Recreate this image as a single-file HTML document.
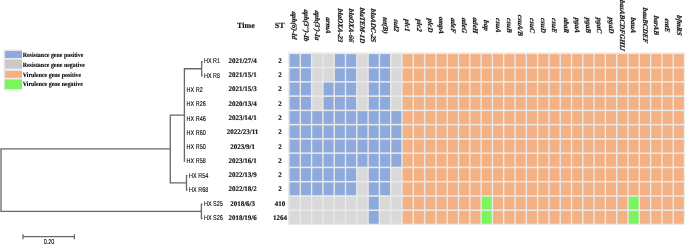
<!DOCTYPE html>
<html><head><meta charset="utf-8"><title>Phylogeny heatmap</title><style>html,body{margin:0;padding:0;background:#fff;}
body{width:685px;height:244px;overflow:hidden;position:relative;}
svg{position:absolute;left:0;top:0;display:block;text-rendering:geometricPrecision;will-change:transform;}
.hd{font-family:"Liberation Serif",serif;font-weight:bold;font-style:italic;font-size:7.1px;fill:#111;stroke:#111;stroke-width:0.2px;}
.tt{font-family:"Liberation Serif",serif;font-weight:bold;font-size:8px;fill:#111;stroke:#111;stroke-width:0.15px;}
.dt{font-family:"Liberation Serif",serif;font-weight:bold;font-size:7.0px;fill:#111;stroke:#111;stroke-width:0.15px;}
.lb{font-family:"Liberation Sans",sans-serif;font-size:7.0px;fill:#000;stroke:#000;stroke-width:0.12px;}
.lg{font-family:"Liberation Serif",serif;font-weight:bold;font-size:6.6px;fill:#000;stroke:#000;stroke-width:0.1px;}
</style></head><body>
<svg width="685" height="244" viewBox="0 0 685 244">
<rect x="287.9" y="52.4" width="396.90" height="172.80" fill="#E9E9E9"/>
<rect x="289.70" y="54.10" width="9.9" height="12.7" fill="#8EA9DB"/>
<rect x="301.00" y="54.10" width="9.9" height="12.7" fill="#8EA9DB"/>
<rect x="312.30" y="54.10" width="9.9" height="12.7" fill="#D9D9D9"/>
<rect x="323.60" y="54.10" width="9.9" height="12.7" fill="#D9D9D9"/>
<rect x="334.90" y="54.10" width="9.9" height="12.7" fill="#8EA9DB"/>
<rect x="346.20" y="54.10" width="9.9" height="12.7" fill="#8EA9DB"/>
<rect x="357.50" y="54.10" width="9.9" height="12.7" fill="#D9D9D9"/>
<rect x="368.80" y="54.10" width="9.9" height="12.7" fill="#8EA9DB"/>
<rect x="380.10" y="54.10" width="9.9" height="12.7" fill="#8EA9DB"/>
<rect x="391.40" y="54.10" width="9.9" height="12.7" fill="#D9D9D9"/>
<rect x="402.70" y="54.10" width="9.9" height="12.7" fill="#F4B183"/>
<rect x="414.00" y="54.10" width="9.9" height="12.7" fill="#F4B183"/>
<rect x="425.30" y="54.10" width="9.9" height="12.7" fill="#F4B183"/>
<rect x="436.60" y="54.10" width="9.9" height="12.7" fill="#F4B183"/>
<rect x="447.90" y="54.10" width="9.9" height="12.7" fill="#F4B183"/>
<rect x="459.20" y="54.10" width="9.9" height="12.7" fill="#F4B183"/>
<rect x="470.50" y="54.10" width="9.9" height="12.7" fill="#F4B183"/>
<rect x="481.80" y="54.10" width="9.9" height="12.7" fill="#F4B183"/>
<rect x="493.10" y="54.10" width="9.9" height="12.7" fill="#F4B183"/>
<rect x="504.40" y="54.10" width="9.9" height="12.7" fill="#F4B183"/>
<rect x="515.70" y="54.10" width="9.9" height="12.7" fill="#F4B183"/>
<rect x="527.00" y="54.10" width="9.9" height="12.7" fill="#F4B183"/>
<rect x="538.30" y="54.10" width="9.9" height="12.7" fill="#F4B183"/>
<rect x="549.60" y="54.10" width="9.9" height="12.7" fill="#F4B183"/>
<rect x="560.90" y="54.10" width="9.9" height="12.7" fill="#F4B183"/>
<rect x="572.20" y="54.10" width="9.9" height="12.7" fill="#F4B183"/>
<rect x="583.50" y="54.10" width="9.9" height="12.7" fill="#F4B183"/>
<rect x="594.80" y="54.10" width="9.9" height="12.7" fill="#F4B183"/>
<rect x="606.10" y="54.10" width="9.9" height="12.7" fill="#F4B183"/>
<rect x="617.40" y="54.10" width="9.9" height="12.7" fill="#F4B183"/>
<rect x="628.70" y="54.10" width="9.9" height="12.7" fill="#F4B183"/>
<rect x="640.00" y="54.10" width="9.9" height="12.7" fill="#F4B183"/>
<rect x="651.30" y="54.10" width="9.9" height="12.7" fill="#F4B183"/>
<rect x="662.60" y="54.10" width="9.9" height="12.7" fill="#F4B183"/>
<rect x="673.90" y="54.10" width="9.9" height="12.7" fill="#F4B183"/>
<rect x="289.70" y="68.37" width="9.9" height="12.7" fill="#8EA9DB"/>
<rect x="301.00" y="68.37" width="9.9" height="12.7" fill="#8EA9DB"/>
<rect x="312.30" y="68.37" width="9.9" height="12.7" fill="#D9D9D9"/>
<rect x="323.60" y="68.37" width="9.9" height="12.7" fill="#D9D9D9"/>
<rect x="334.90" y="68.37" width="9.9" height="12.7" fill="#8EA9DB"/>
<rect x="346.20" y="68.37" width="9.9" height="12.7" fill="#8EA9DB"/>
<rect x="357.50" y="68.37" width="9.9" height="12.7" fill="#D9D9D9"/>
<rect x="368.80" y="68.37" width="9.9" height="12.7" fill="#8EA9DB"/>
<rect x="380.10" y="68.37" width="9.9" height="12.7" fill="#8EA9DB"/>
<rect x="391.40" y="68.37" width="9.9" height="12.7" fill="#D9D9D9"/>
<rect x="402.70" y="68.37" width="9.9" height="12.7" fill="#F4B183"/>
<rect x="414.00" y="68.37" width="9.9" height="12.7" fill="#F4B183"/>
<rect x="425.30" y="68.37" width="9.9" height="12.7" fill="#F4B183"/>
<rect x="436.60" y="68.37" width="9.9" height="12.7" fill="#F4B183"/>
<rect x="447.90" y="68.37" width="9.9" height="12.7" fill="#F4B183"/>
<rect x="459.20" y="68.37" width="9.9" height="12.7" fill="#F4B183"/>
<rect x="470.50" y="68.37" width="9.9" height="12.7" fill="#F4B183"/>
<rect x="481.80" y="68.37" width="9.9" height="12.7" fill="#F4B183"/>
<rect x="493.10" y="68.37" width="9.9" height="12.7" fill="#F4B183"/>
<rect x="504.40" y="68.37" width="9.9" height="12.7" fill="#F4B183"/>
<rect x="515.70" y="68.37" width="9.9" height="12.7" fill="#F4B183"/>
<rect x="527.00" y="68.37" width="9.9" height="12.7" fill="#F4B183"/>
<rect x="538.30" y="68.37" width="9.9" height="12.7" fill="#F4B183"/>
<rect x="549.60" y="68.37" width="9.9" height="12.7" fill="#F4B183"/>
<rect x="560.90" y="68.37" width="9.9" height="12.7" fill="#F4B183"/>
<rect x="572.20" y="68.37" width="9.9" height="12.7" fill="#F4B183"/>
<rect x="583.50" y="68.37" width="9.9" height="12.7" fill="#F4B183"/>
<rect x="594.80" y="68.37" width="9.9" height="12.7" fill="#F4B183"/>
<rect x="606.10" y="68.37" width="9.9" height="12.7" fill="#F4B183"/>
<rect x="617.40" y="68.37" width="9.9" height="12.7" fill="#F4B183"/>
<rect x="628.70" y="68.37" width="9.9" height="12.7" fill="#F4B183"/>
<rect x="640.00" y="68.37" width="9.9" height="12.7" fill="#F4B183"/>
<rect x="651.30" y="68.37" width="9.9" height="12.7" fill="#F4B183"/>
<rect x="662.60" y="68.37" width="9.9" height="12.7" fill="#F4B183"/>
<rect x="673.90" y="68.37" width="9.9" height="12.7" fill="#F4B183"/>
<rect x="289.70" y="82.63" width="9.9" height="12.7" fill="#8EA9DB"/>
<rect x="301.00" y="82.63" width="9.9" height="12.7" fill="#8EA9DB"/>
<rect x="312.30" y="82.63" width="9.9" height="12.7" fill="#D9D9D9"/>
<rect x="323.60" y="82.63" width="9.9" height="12.7" fill="#8EA9DB"/>
<rect x="334.90" y="82.63" width="9.9" height="12.7" fill="#8EA9DB"/>
<rect x="346.20" y="82.63" width="9.9" height="12.7" fill="#8EA9DB"/>
<rect x="357.50" y="82.63" width="9.9" height="12.7" fill="#D9D9D9"/>
<rect x="368.80" y="82.63" width="9.9" height="12.7" fill="#8EA9DB"/>
<rect x="380.10" y="82.63" width="9.9" height="12.7" fill="#8EA9DB"/>
<rect x="391.40" y="82.63" width="9.9" height="12.7" fill="#D9D9D9"/>
<rect x="402.70" y="82.63" width="9.9" height="12.7" fill="#F4B183"/>
<rect x="414.00" y="82.63" width="9.9" height="12.7" fill="#F4B183"/>
<rect x="425.30" y="82.63" width="9.9" height="12.7" fill="#F4B183"/>
<rect x="436.60" y="82.63" width="9.9" height="12.7" fill="#F4B183"/>
<rect x="447.90" y="82.63" width="9.9" height="12.7" fill="#F4B183"/>
<rect x="459.20" y="82.63" width="9.9" height="12.7" fill="#F4B183"/>
<rect x="470.50" y="82.63" width="9.9" height="12.7" fill="#F4B183"/>
<rect x="481.80" y="82.63" width="9.9" height="12.7" fill="#F4B183"/>
<rect x="493.10" y="82.63" width="9.9" height="12.7" fill="#F4B183"/>
<rect x="504.40" y="82.63" width="9.9" height="12.7" fill="#F4B183"/>
<rect x="515.70" y="82.63" width="9.9" height="12.7" fill="#F4B183"/>
<rect x="527.00" y="82.63" width="9.9" height="12.7" fill="#F4B183"/>
<rect x="538.30" y="82.63" width="9.9" height="12.7" fill="#F4B183"/>
<rect x="549.60" y="82.63" width="9.9" height="12.7" fill="#F4B183"/>
<rect x="560.90" y="82.63" width="9.9" height="12.7" fill="#F4B183"/>
<rect x="572.20" y="82.63" width="9.9" height="12.7" fill="#F4B183"/>
<rect x="583.50" y="82.63" width="9.9" height="12.7" fill="#F4B183"/>
<rect x="594.80" y="82.63" width="9.9" height="12.7" fill="#F4B183"/>
<rect x="606.10" y="82.63" width="9.9" height="12.7" fill="#F4B183"/>
<rect x="617.40" y="82.63" width="9.9" height="12.7" fill="#F4B183"/>
<rect x="628.70" y="82.63" width="9.9" height="12.7" fill="#F4B183"/>
<rect x="640.00" y="82.63" width="9.9" height="12.7" fill="#F4B183"/>
<rect x="651.30" y="82.63" width="9.9" height="12.7" fill="#F4B183"/>
<rect x="662.60" y="82.63" width="9.9" height="12.7" fill="#F4B183"/>
<rect x="673.90" y="82.63" width="9.9" height="12.7" fill="#F4B183"/>
<rect x="289.70" y="96.90" width="9.9" height="12.7" fill="#8EA9DB"/>
<rect x="301.00" y="96.90" width="9.9" height="12.7" fill="#8EA9DB"/>
<rect x="312.30" y="96.90" width="9.9" height="12.7" fill="#D9D9D9"/>
<rect x="323.60" y="96.90" width="9.9" height="12.7" fill="#8EA9DB"/>
<rect x="334.90" y="96.90" width="9.9" height="12.7" fill="#8EA9DB"/>
<rect x="346.20" y="96.90" width="9.9" height="12.7" fill="#8EA9DB"/>
<rect x="357.50" y="96.90" width="9.9" height="12.7" fill="#D9D9D9"/>
<rect x="368.80" y="96.90" width="9.9" height="12.7" fill="#8EA9DB"/>
<rect x="380.10" y="96.90" width="9.9" height="12.7" fill="#8EA9DB"/>
<rect x="391.40" y="96.90" width="9.9" height="12.7" fill="#D9D9D9"/>
<rect x="402.70" y="96.90" width="9.9" height="12.7" fill="#F4B183"/>
<rect x="414.00" y="96.90" width="9.9" height="12.7" fill="#F4B183"/>
<rect x="425.30" y="96.90" width="9.9" height="12.7" fill="#F4B183"/>
<rect x="436.60" y="96.90" width="9.9" height="12.7" fill="#F4B183"/>
<rect x="447.90" y="96.90" width="9.9" height="12.7" fill="#F4B183"/>
<rect x="459.20" y="96.90" width="9.9" height="12.7" fill="#F4B183"/>
<rect x="470.50" y="96.90" width="9.9" height="12.7" fill="#F4B183"/>
<rect x="481.80" y="96.90" width="9.9" height="12.7" fill="#F4B183"/>
<rect x="493.10" y="96.90" width="9.9" height="12.7" fill="#F4B183"/>
<rect x="504.40" y="96.90" width="9.9" height="12.7" fill="#F4B183"/>
<rect x="515.70" y="96.90" width="9.9" height="12.7" fill="#F4B183"/>
<rect x="527.00" y="96.90" width="9.9" height="12.7" fill="#F4B183"/>
<rect x="538.30" y="96.90" width="9.9" height="12.7" fill="#F4B183"/>
<rect x="549.60" y="96.90" width="9.9" height="12.7" fill="#F4B183"/>
<rect x="560.90" y="96.90" width="9.9" height="12.7" fill="#F4B183"/>
<rect x="572.20" y="96.90" width="9.9" height="12.7" fill="#F4B183"/>
<rect x="583.50" y="96.90" width="9.9" height="12.7" fill="#F4B183"/>
<rect x="594.80" y="96.90" width="9.9" height="12.7" fill="#F4B183"/>
<rect x="606.10" y="96.90" width="9.9" height="12.7" fill="#F4B183"/>
<rect x="617.40" y="96.90" width="9.9" height="12.7" fill="#F4B183"/>
<rect x="628.70" y="96.90" width="9.9" height="12.7" fill="#F4B183"/>
<rect x="640.00" y="96.90" width="9.9" height="12.7" fill="#F4B183"/>
<rect x="651.30" y="96.90" width="9.9" height="12.7" fill="#F4B183"/>
<rect x="662.60" y="96.90" width="9.9" height="12.7" fill="#F4B183"/>
<rect x="673.90" y="96.90" width="9.9" height="12.7" fill="#F4B183"/>
<rect x="289.70" y="111.16" width="9.9" height="12.7" fill="#8EA9DB"/>
<rect x="301.00" y="111.16" width="9.9" height="12.7" fill="#8EA9DB"/>
<rect x="312.30" y="111.16" width="9.9" height="12.7" fill="#8EA9DB"/>
<rect x="323.60" y="111.16" width="9.9" height="12.7" fill="#8EA9DB"/>
<rect x="334.90" y="111.16" width="9.9" height="12.7" fill="#8EA9DB"/>
<rect x="346.20" y="111.16" width="9.9" height="12.7" fill="#8EA9DB"/>
<rect x="357.50" y="111.16" width="9.9" height="12.7" fill="#8EA9DB"/>
<rect x="368.80" y="111.16" width="9.9" height="12.7" fill="#8EA9DB"/>
<rect x="380.10" y="111.16" width="9.9" height="12.7" fill="#8EA9DB"/>
<rect x="391.40" y="111.16" width="9.9" height="12.7" fill="#8EA9DB"/>
<rect x="402.70" y="111.16" width="9.9" height="12.7" fill="#F4B183"/>
<rect x="414.00" y="111.16" width="9.9" height="12.7" fill="#F4B183"/>
<rect x="425.30" y="111.16" width="9.9" height="12.7" fill="#F4B183"/>
<rect x="436.60" y="111.16" width="9.9" height="12.7" fill="#F4B183"/>
<rect x="447.90" y="111.16" width="9.9" height="12.7" fill="#F4B183"/>
<rect x="459.20" y="111.16" width="9.9" height="12.7" fill="#F4B183"/>
<rect x="470.50" y="111.16" width="9.9" height="12.7" fill="#F4B183"/>
<rect x="481.80" y="111.16" width="9.9" height="12.7" fill="#F4B183"/>
<rect x="493.10" y="111.16" width="9.9" height="12.7" fill="#F4B183"/>
<rect x="504.40" y="111.16" width="9.9" height="12.7" fill="#F4B183"/>
<rect x="515.70" y="111.16" width="9.9" height="12.7" fill="#F4B183"/>
<rect x="527.00" y="111.16" width="9.9" height="12.7" fill="#F4B183"/>
<rect x="538.30" y="111.16" width="9.9" height="12.7" fill="#F4B183"/>
<rect x="549.60" y="111.16" width="9.9" height="12.7" fill="#F4B183"/>
<rect x="560.90" y="111.16" width="9.9" height="12.7" fill="#F4B183"/>
<rect x="572.20" y="111.16" width="9.9" height="12.7" fill="#F4B183"/>
<rect x="583.50" y="111.16" width="9.9" height="12.7" fill="#F4B183"/>
<rect x="594.80" y="111.16" width="9.9" height="12.7" fill="#F4B183"/>
<rect x="606.10" y="111.16" width="9.9" height="12.7" fill="#F4B183"/>
<rect x="617.40" y="111.16" width="9.9" height="12.7" fill="#F4B183"/>
<rect x="628.70" y="111.16" width="9.9" height="12.7" fill="#F4B183"/>
<rect x="640.00" y="111.16" width="9.9" height="12.7" fill="#F4B183"/>
<rect x="651.30" y="111.16" width="9.9" height="12.7" fill="#F4B183"/>
<rect x="662.60" y="111.16" width="9.9" height="12.7" fill="#F4B183"/>
<rect x="673.90" y="111.16" width="9.9" height="12.7" fill="#F4B183"/>
<rect x="289.70" y="125.43" width="9.9" height="12.7" fill="#8EA9DB"/>
<rect x="301.00" y="125.43" width="9.9" height="12.7" fill="#8EA9DB"/>
<rect x="312.30" y="125.43" width="9.9" height="12.7" fill="#8EA9DB"/>
<rect x="323.60" y="125.43" width="9.9" height="12.7" fill="#8EA9DB"/>
<rect x="334.90" y="125.43" width="9.9" height="12.7" fill="#8EA9DB"/>
<rect x="346.20" y="125.43" width="9.9" height="12.7" fill="#8EA9DB"/>
<rect x="357.50" y="125.43" width="9.9" height="12.7" fill="#8EA9DB"/>
<rect x="368.80" y="125.43" width="9.9" height="12.7" fill="#8EA9DB"/>
<rect x="380.10" y="125.43" width="9.9" height="12.7" fill="#8EA9DB"/>
<rect x="391.40" y="125.43" width="9.9" height="12.7" fill="#8EA9DB"/>
<rect x="402.70" y="125.43" width="9.9" height="12.7" fill="#F4B183"/>
<rect x="414.00" y="125.43" width="9.9" height="12.7" fill="#F4B183"/>
<rect x="425.30" y="125.43" width="9.9" height="12.7" fill="#F4B183"/>
<rect x="436.60" y="125.43" width="9.9" height="12.7" fill="#F4B183"/>
<rect x="447.90" y="125.43" width="9.9" height="12.7" fill="#F4B183"/>
<rect x="459.20" y="125.43" width="9.9" height="12.7" fill="#F4B183"/>
<rect x="470.50" y="125.43" width="9.9" height="12.7" fill="#F4B183"/>
<rect x="481.80" y="125.43" width="9.9" height="12.7" fill="#F4B183"/>
<rect x="493.10" y="125.43" width="9.9" height="12.7" fill="#F4B183"/>
<rect x="504.40" y="125.43" width="9.9" height="12.7" fill="#F4B183"/>
<rect x="515.70" y="125.43" width="9.9" height="12.7" fill="#F4B183"/>
<rect x="527.00" y="125.43" width="9.9" height="12.7" fill="#F4B183"/>
<rect x="538.30" y="125.43" width="9.9" height="12.7" fill="#F4B183"/>
<rect x="549.60" y="125.43" width="9.9" height="12.7" fill="#F4B183"/>
<rect x="560.90" y="125.43" width="9.9" height="12.7" fill="#F4B183"/>
<rect x="572.20" y="125.43" width="9.9" height="12.7" fill="#F4B183"/>
<rect x="583.50" y="125.43" width="9.9" height="12.7" fill="#F4B183"/>
<rect x="594.80" y="125.43" width="9.9" height="12.7" fill="#F4B183"/>
<rect x="606.10" y="125.43" width="9.9" height="12.7" fill="#F4B183"/>
<rect x="617.40" y="125.43" width="9.9" height="12.7" fill="#F4B183"/>
<rect x="628.70" y="125.43" width="9.9" height="12.7" fill="#F4B183"/>
<rect x="640.00" y="125.43" width="9.9" height="12.7" fill="#F4B183"/>
<rect x="651.30" y="125.43" width="9.9" height="12.7" fill="#F4B183"/>
<rect x="662.60" y="125.43" width="9.9" height="12.7" fill="#F4B183"/>
<rect x="673.90" y="125.43" width="9.9" height="12.7" fill="#F4B183"/>
<rect x="289.70" y="139.69" width="9.9" height="12.7" fill="#8EA9DB"/>
<rect x="301.00" y="139.69" width="9.9" height="12.7" fill="#8EA9DB"/>
<rect x="312.30" y="139.69" width="9.9" height="12.7" fill="#8EA9DB"/>
<rect x="323.60" y="139.69" width="9.9" height="12.7" fill="#8EA9DB"/>
<rect x="334.90" y="139.69" width="9.9" height="12.7" fill="#8EA9DB"/>
<rect x="346.20" y="139.69" width="9.9" height="12.7" fill="#8EA9DB"/>
<rect x="357.50" y="139.69" width="9.9" height="12.7" fill="#8EA9DB"/>
<rect x="368.80" y="139.69" width="9.9" height="12.7" fill="#8EA9DB"/>
<rect x="380.10" y="139.69" width="9.9" height="12.7" fill="#8EA9DB"/>
<rect x="391.40" y="139.69" width="9.9" height="12.7" fill="#8EA9DB"/>
<rect x="402.70" y="139.69" width="9.9" height="12.7" fill="#F4B183"/>
<rect x="414.00" y="139.69" width="9.9" height="12.7" fill="#F4B183"/>
<rect x="425.30" y="139.69" width="9.9" height="12.7" fill="#F4B183"/>
<rect x="436.60" y="139.69" width="9.9" height="12.7" fill="#F4B183"/>
<rect x="447.90" y="139.69" width="9.9" height="12.7" fill="#F4B183"/>
<rect x="459.20" y="139.69" width="9.9" height="12.7" fill="#F4B183"/>
<rect x="470.50" y="139.69" width="9.9" height="12.7" fill="#F4B183"/>
<rect x="481.80" y="139.69" width="9.9" height="12.7" fill="#F4B183"/>
<rect x="493.10" y="139.69" width="9.9" height="12.7" fill="#F4B183"/>
<rect x="504.40" y="139.69" width="9.9" height="12.7" fill="#F4B183"/>
<rect x="515.70" y="139.69" width="9.9" height="12.7" fill="#F4B183"/>
<rect x="527.00" y="139.69" width="9.9" height="12.7" fill="#F4B183"/>
<rect x="538.30" y="139.69" width="9.9" height="12.7" fill="#F4B183"/>
<rect x="549.60" y="139.69" width="9.9" height="12.7" fill="#F4B183"/>
<rect x="560.90" y="139.69" width="9.9" height="12.7" fill="#F4B183"/>
<rect x="572.20" y="139.69" width="9.9" height="12.7" fill="#F4B183"/>
<rect x="583.50" y="139.69" width="9.9" height="12.7" fill="#F4B183"/>
<rect x="594.80" y="139.69" width="9.9" height="12.7" fill="#F4B183"/>
<rect x="606.10" y="139.69" width="9.9" height="12.7" fill="#F4B183"/>
<rect x="617.40" y="139.69" width="9.9" height="12.7" fill="#F4B183"/>
<rect x="628.70" y="139.69" width="9.9" height="12.7" fill="#F4B183"/>
<rect x="640.00" y="139.69" width="9.9" height="12.7" fill="#F4B183"/>
<rect x="651.30" y="139.69" width="9.9" height="12.7" fill="#F4B183"/>
<rect x="662.60" y="139.69" width="9.9" height="12.7" fill="#F4B183"/>
<rect x="673.90" y="139.69" width="9.9" height="12.7" fill="#F4B183"/>
<rect x="289.70" y="153.96" width="9.9" height="12.7" fill="#8EA9DB"/>
<rect x="301.00" y="153.96" width="9.9" height="12.7" fill="#8EA9DB"/>
<rect x="312.30" y="153.96" width="9.9" height="12.7" fill="#8EA9DB"/>
<rect x="323.60" y="153.96" width="9.9" height="12.7" fill="#8EA9DB"/>
<rect x="334.90" y="153.96" width="9.9" height="12.7" fill="#8EA9DB"/>
<rect x="346.20" y="153.96" width="9.9" height="12.7" fill="#8EA9DB"/>
<rect x="357.50" y="153.96" width="9.9" height="12.7" fill="#8EA9DB"/>
<rect x="368.80" y="153.96" width="9.9" height="12.7" fill="#8EA9DB"/>
<rect x="380.10" y="153.96" width="9.9" height="12.7" fill="#8EA9DB"/>
<rect x="391.40" y="153.96" width="9.9" height="12.7" fill="#8EA9DB"/>
<rect x="402.70" y="153.96" width="9.9" height="12.7" fill="#F4B183"/>
<rect x="414.00" y="153.96" width="9.9" height="12.7" fill="#F4B183"/>
<rect x="425.30" y="153.96" width="9.9" height="12.7" fill="#F4B183"/>
<rect x="436.60" y="153.96" width="9.9" height="12.7" fill="#F4B183"/>
<rect x="447.90" y="153.96" width="9.9" height="12.7" fill="#F4B183"/>
<rect x="459.20" y="153.96" width="9.9" height="12.7" fill="#F4B183"/>
<rect x="470.50" y="153.96" width="9.9" height="12.7" fill="#F4B183"/>
<rect x="481.80" y="153.96" width="9.9" height="12.7" fill="#F4B183"/>
<rect x="493.10" y="153.96" width="9.9" height="12.7" fill="#F4B183"/>
<rect x="504.40" y="153.96" width="9.9" height="12.7" fill="#F4B183"/>
<rect x="515.70" y="153.96" width="9.9" height="12.7" fill="#F4B183"/>
<rect x="527.00" y="153.96" width="9.9" height="12.7" fill="#F4B183"/>
<rect x="538.30" y="153.96" width="9.9" height="12.7" fill="#F4B183"/>
<rect x="549.60" y="153.96" width="9.9" height="12.7" fill="#F4B183"/>
<rect x="560.90" y="153.96" width="9.9" height="12.7" fill="#F4B183"/>
<rect x="572.20" y="153.96" width="9.9" height="12.7" fill="#F4B183"/>
<rect x="583.50" y="153.96" width="9.9" height="12.7" fill="#F4B183"/>
<rect x="594.80" y="153.96" width="9.9" height="12.7" fill="#F4B183"/>
<rect x="606.10" y="153.96" width="9.9" height="12.7" fill="#F4B183"/>
<rect x="617.40" y="153.96" width="9.9" height="12.7" fill="#F4B183"/>
<rect x="628.70" y="153.96" width="9.9" height="12.7" fill="#F4B183"/>
<rect x="640.00" y="153.96" width="9.9" height="12.7" fill="#F4B183"/>
<rect x="651.30" y="153.96" width="9.9" height="12.7" fill="#F4B183"/>
<rect x="662.60" y="153.96" width="9.9" height="12.7" fill="#F4B183"/>
<rect x="673.90" y="153.96" width="9.9" height="12.7" fill="#F4B183"/>
<rect x="289.70" y="168.22" width="9.9" height="12.7" fill="#8EA9DB"/>
<rect x="301.00" y="168.22" width="9.9" height="12.7" fill="#8EA9DB"/>
<rect x="312.30" y="168.22" width="9.9" height="12.7" fill="#8EA9DB"/>
<rect x="323.60" y="168.22" width="9.9" height="12.7" fill="#8EA9DB"/>
<rect x="334.90" y="168.22" width="9.9" height="12.7" fill="#8EA9DB"/>
<rect x="346.20" y="168.22" width="9.9" height="12.7" fill="#8EA9DB"/>
<rect x="357.50" y="168.22" width="9.9" height="12.7" fill="#D9D9D9"/>
<rect x="368.80" y="168.22" width="9.9" height="12.7" fill="#8EA9DB"/>
<rect x="380.10" y="168.22" width="9.9" height="12.7" fill="#8EA9DB"/>
<rect x="391.40" y="168.22" width="9.9" height="12.7" fill="#D9D9D9"/>
<rect x="402.70" y="168.22" width="9.9" height="12.7" fill="#F4B183"/>
<rect x="414.00" y="168.22" width="9.9" height="12.7" fill="#F4B183"/>
<rect x="425.30" y="168.22" width="9.9" height="12.7" fill="#F4B183"/>
<rect x="436.60" y="168.22" width="9.9" height="12.7" fill="#F4B183"/>
<rect x="447.90" y="168.22" width="9.9" height="12.7" fill="#F4B183"/>
<rect x="459.20" y="168.22" width="9.9" height="12.7" fill="#F4B183"/>
<rect x="470.50" y="168.22" width="9.9" height="12.7" fill="#F4B183"/>
<rect x="481.80" y="168.22" width="9.9" height="12.7" fill="#F4B183"/>
<rect x="493.10" y="168.22" width="9.9" height="12.7" fill="#F4B183"/>
<rect x="504.40" y="168.22" width="9.9" height="12.7" fill="#F4B183"/>
<rect x="515.70" y="168.22" width="9.9" height="12.7" fill="#F4B183"/>
<rect x="527.00" y="168.22" width="9.9" height="12.7" fill="#F4B183"/>
<rect x="538.30" y="168.22" width="9.9" height="12.7" fill="#F4B183"/>
<rect x="549.60" y="168.22" width="9.9" height="12.7" fill="#F4B183"/>
<rect x="560.90" y="168.22" width="9.9" height="12.7" fill="#F4B183"/>
<rect x="572.20" y="168.22" width="9.9" height="12.7" fill="#F4B183"/>
<rect x="583.50" y="168.22" width="9.9" height="12.7" fill="#F4B183"/>
<rect x="594.80" y="168.22" width="9.9" height="12.7" fill="#F4B183"/>
<rect x="606.10" y="168.22" width="9.9" height="12.7" fill="#F4B183"/>
<rect x="617.40" y="168.22" width="9.9" height="12.7" fill="#F4B183"/>
<rect x="628.70" y="168.22" width="9.9" height="12.7" fill="#F4B183"/>
<rect x="640.00" y="168.22" width="9.9" height="12.7" fill="#F4B183"/>
<rect x="651.30" y="168.22" width="9.9" height="12.7" fill="#F4B183"/>
<rect x="662.60" y="168.22" width="9.9" height="12.7" fill="#F4B183"/>
<rect x="673.90" y="168.22" width="9.9" height="12.7" fill="#F4B183"/>
<rect x="289.70" y="182.48" width="9.9" height="12.7" fill="#8EA9DB"/>
<rect x="301.00" y="182.48" width="9.9" height="12.7" fill="#8EA9DB"/>
<rect x="312.30" y="182.48" width="9.9" height="12.7" fill="#8EA9DB"/>
<rect x="323.60" y="182.48" width="9.9" height="12.7" fill="#8EA9DB"/>
<rect x="334.90" y="182.48" width="9.9" height="12.7" fill="#8EA9DB"/>
<rect x="346.20" y="182.48" width="9.9" height="12.7" fill="#8EA9DB"/>
<rect x="357.50" y="182.48" width="9.9" height="12.7" fill="#D9D9D9"/>
<rect x="368.80" y="182.48" width="9.9" height="12.7" fill="#8EA9DB"/>
<rect x="380.10" y="182.48" width="9.9" height="12.7" fill="#8EA9DB"/>
<rect x="391.40" y="182.48" width="9.9" height="12.7" fill="#D9D9D9"/>
<rect x="402.70" y="182.48" width="9.9" height="12.7" fill="#F4B183"/>
<rect x="414.00" y="182.48" width="9.9" height="12.7" fill="#F4B183"/>
<rect x="425.30" y="182.48" width="9.9" height="12.7" fill="#F4B183"/>
<rect x="436.60" y="182.48" width="9.9" height="12.7" fill="#F4B183"/>
<rect x="447.90" y="182.48" width="9.9" height="12.7" fill="#F4B183"/>
<rect x="459.20" y="182.48" width="9.9" height="12.7" fill="#F4B183"/>
<rect x="470.50" y="182.48" width="9.9" height="12.7" fill="#F4B183"/>
<rect x="481.80" y="182.48" width="9.9" height="12.7" fill="#F4B183"/>
<rect x="493.10" y="182.48" width="9.9" height="12.7" fill="#F4B183"/>
<rect x="504.40" y="182.48" width="9.9" height="12.7" fill="#F4B183"/>
<rect x="515.70" y="182.48" width="9.9" height="12.7" fill="#F4B183"/>
<rect x="527.00" y="182.48" width="9.9" height="12.7" fill="#F4B183"/>
<rect x="538.30" y="182.48" width="9.9" height="12.7" fill="#F4B183"/>
<rect x="549.60" y="182.48" width="9.9" height="12.7" fill="#F4B183"/>
<rect x="560.90" y="182.48" width="9.9" height="12.7" fill="#F4B183"/>
<rect x="572.20" y="182.48" width="9.9" height="12.7" fill="#F4B183"/>
<rect x="583.50" y="182.48" width="9.9" height="12.7" fill="#F4B183"/>
<rect x="594.80" y="182.48" width="9.9" height="12.7" fill="#F4B183"/>
<rect x="606.10" y="182.48" width="9.9" height="12.7" fill="#F4B183"/>
<rect x="617.40" y="182.48" width="9.9" height="12.7" fill="#F4B183"/>
<rect x="628.70" y="182.48" width="9.9" height="12.7" fill="#F4B183"/>
<rect x="640.00" y="182.48" width="9.9" height="12.7" fill="#F4B183"/>
<rect x="651.30" y="182.48" width="9.9" height="12.7" fill="#F4B183"/>
<rect x="662.60" y="182.48" width="9.9" height="12.7" fill="#F4B183"/>
<rect x="673.90" y="182.48" width="9.9" height="12.7" fill="#F4B183"/>
<rect x="289.70" y="196.75" width="9.9" height="12.7" fill="#D9D9D9"/>
<rect x="301.00" y="196.75" width="9.9" height="12.7" fill="#D9D9D9"/>
<rect x="312.30" y="196.75" width="9.9" height="12.7" fill="#D9D9D9"/>
<rect x="323.60" y="196.75" width="9.9" height="12.7" fill="#D9D9D9"/>
<rect x="334.90" y="196.75" width="9.9" height="12.7" fill="#D9D9D9"/>
<rect x="346.20" y="196.75" width="9.9" height="12.7" fill="#D9D9D9"/>
<rect x="357.50" y="196.75" width="9.9" height="12.7" fill="#D9D9D9"/>
<rect x="368.80" y="196.75" width="9.9" height="12.7" fill="#8EA9DB"/>
<rect x="380.10" y="196.75" width="9.9" height="12.7" fill="#D9D9D9"/>
<rect x="391.40" y="196.75" width="9.9" height="12.7" fill="#D9D9D9"/>
<rect x="402.70" y="196.75" width="9.9" height="12.7" fill="#F4B183"/>
<rect x="414.00" y="196.75" width="9.9" height="12.7" fill="#F4B183"/>
<rect x="425.30" y="196.75" width="9.9" height="12.7" fill="#F4B183"/>
<rect x="436.60" y="196.75" width="9.9" height="12.7" fill="#F4B183"/>
<rect x="447.90" y="196.75" width="9.9" height="12.7" fill="#F4B183"/>
<rect x="459.20" y="196.75" width="9.9" height="12.7" fill="#F4B183"/>
<rect x="470.50" y="196.75" width="9.9" height="12.7" fill="#F4B183"/>
<rect x="481.80" y="196.75" width="9.9" height="12.7" fill="#7AF55E"/>
<rect x="493.10" y="196.75" width="9.9" height="12.7" fill="#F4B183"/>
<rect x="504.40" y="196.75" width="9.9" height="12.7" fill="#F4B183"/>
<rect x="515.70" y="196.75" width="9.9" height="12.7" fill="#F4B183"/>
<rect x="527.00" y="196.75" width="9.9" height="12.7" fill="#F4B183"/>
<rect x="538.30" y="196.75" width="9.9" height="12.7" fill="#F4B183"/>
<rect x="549.60" y="196.75" width="9.9" height="12.7" fill="#F4B183"/>
<rect x="560.90" y="196.75" width="9.9" height="12.7" fill="#F4B183"/>
<rect x="572.20" y="196.75" width="9.9" height="12.7" fill="#F4B183"/>
<rect x="583.50" y="196.75" width="9.9" height="12.7" fill="#F4B183"/>
<rect x="594.80" y="196.75" width="9.9" height="12.7" fill="#F4B183"/>
<rect x="606.10" y="196.75" width="9.9" height="12.7" fill="#F4B183"/>
<rect x="617.40" y="196.75" width="9.9" height="12.7" fill="#F4B183"/>
<rect x="628.70" y="196.75" width="9.9" height="12.7" fill="#7AF55E"/>
<rect x="640.00" y="196.75" width="9.9" height="12.7" fill="#F4B183"/>
<rect x="651.30" y="196.75" width="9.9" height="12.7" fill="#F4B183"/>
<rect x="662.60" y="196.75" width="9.9" height="12.7" fill="#F4B183"/>
<rect x="673.90" y="196.75" width="9.9" height="12.7" fill="#F4B183"/>
<rect x="289.70" y="211.02" width="9.9" height="12.7" fill="#D9D9D9"/>
<rect x="301.00" y="211.02" width="9.9" height="12.7" fill="#D9D9D9"/>
<rect x="312.30" y="211.02" width="9.9" height="12.7" fill="#D9D9D9"/>
<rect x="323.60" y="211.02" width="9.9" height="12.7" fill="#D9D9D9"/>
<rect x="334.90" y="211.02" width="9.9" height="12.7" fill="#D9D9D9"/>
<rect x="346.20" y="211.02" width="9.9" height="12.7" fill="#D9D9D9"/>
<rect x="357.50" y="211.02" width="9.9" height="12.7" fill="#D9D9D9"/>
<rect x="368.80" y="211.02" width="9.9" height="12.7" fill="#8EA9DB"/>
<rect x="380.10" y="211.02" width="9.9" height="12.7" fill="#D9D9D9"/>
<rect x="391.40" y="211.02" width="9.9" height="12.7" fill="#D9D9D9"/>
<rect x="402.70" y="211.02" width="9.9" height="12.7" fill="#F4B183"/>
<rect x="414.00" y="211.02" width="9.9" height="12.7" fill="#F4B183"/>
<rect x="425.30" y="211.02" width="9.9" height="12.7" fill="#F4B183"/>
<rect x="436.60" y="211.02" width="9.9" height="12.7" fill="#F4B183"/>
<rect x="447.90" y="211.02" width="9.9" height="12.7" fill="#F4B183"/>
<rect x="459.20" y="211.02" width="9.9" height="12.7" fill="#F4B183"/>
<rect x="470.50" y="211.02" width="9.9" height="12.7" fill="#F4B183"/>
<rect x="481.80" y="211.02" width="9.9" height="12.7" fill="#7AF55E"/>
<rect x="493.10" y="211.02" width="9.9" height="12.7" fill="#F4B183"/>
<rect x="504.40" y="211.02" width="9.9" height="12.7" fill="#F4B183"/>
<rect x="515.70" y="211.02" width="9.9" height="12.7" fill="#F4B183"/>
<rect x="527.00" y="211.02" width="9.9" height="12.7" fill="#F4B183"/>
<rect x="538.30" y="211.02" width="9.9" height="12.7" fill="#F4B183"/>
<rect x="549.60" y="211.02" width="9.9" height="12.7" fill="#F4B183"/>
<rect x="560.90" y="211.02" width="9.9" height="12.7" fill="#F4B183"/>
<rect x="572.20" y="211.02" width="9.9" height="12.7" fill="#F4B183"/>
<rect x="583.50" y="211.02" width="9.9" height="12.7" fill="#F4B183"/>
<rect x="594.80" y="211.02" width="9.9" height="12.7" fill="#F4B183"/>
<rect x="606.10" y="211.02" width="9.9" height="12.7" fill="#F4B183"/>
<rect x="617.40" y="211.02" width="9.9" height="12.7" fill="#F4B183"/>
<rect x="628.70" y="211.02" width="9.9" height="12.7" fill="#7AF55E"/>
<rect x="640.00" y="211.02" width="9.9" height="12.7" fill="#F4B183"/>
<rect x="651.30" y="211.02" width="9.9" height="12.7" fill="#F4B183"/>
<rect x="662.60" y="211.02" width="9.9" height="12.7" fill="#F4B183"/>
<rect x="673.90" y="211.02" width="9.9" height="12.7" fill="#F4B183"/>
<text transform="translate(294.65,25.5) rotate(90) skewX(-8)" x="0" y="2.34" text-anchor="middle" class="hd">aph(6)-Id</text>
<text transform="translate(305.95,25.5) rotate(90) skewX(-8)" x="0" y="2.34" text-anchor="middle" class="hd">aph(3'')-Ib</text>
<text transform="translate(317.25,25.5) rotate(90) skewX(-8)" x="0" y="2.34" text-anchor="middle" class="hd">aph(3')-Ia</text>
<text transform="translate(328.55,25.5) rotate(90) skewX(-8)" x="0" y="2.34" text-anchor="middle" class="hd">armA</text>
<text transform="translate(339.85,25.5) rotate(90) skewX(-8)" x="0" y="2.34" text-anchor="middle" class="hd">blaOXA-23</text>
<text transform="translate(351.15,25.5) rotate(90) skewX(-8)" x="0" y="2.34" text-anchor="middle" class="hd">blaOXA-66</text>
<text transform="translate(362.45,25.5) rotate(90) skewX(-8)" x="0" y="2.34" text-anchor="middle" class="hd">blaTEM-1D</text>
<text transform="translate(373.75,25.5) rotate(90) skewX(-8)" x="0" y="2.34" text-anchor="middle" class="hd">blaADC-25</text>
<text transform="translate(385.05,25.5) rotate(90) skewX(-8)" x="0" y="2.34" text-anchor="middle" class="hd">tet(B)</text>
<text transform="translate(396.35,25.5) rotate(90) skewX(-8)" x="0" y="2.34" text-anchor="middle" class="hd">sul2</text>
<text transform="translate(407.65,25.5) rotate(90) skewX(-8)" x="0" y="2.34" text-anchor="middle" class="hd">plc1</text>
<text transform="translate(418.95,25.5) rotate(90) skewX(-8)" x="0" y="2.34" text-anchor="middle" class="hd">plc2</text>
<text transform="translate(430.25,25.5) rotate(90) skewX(-8)" x="0" y="2.34" text-anchor="middle" class="hd">plcD</text>
<text transform="translate(441.55,25.5) rotate(90) skewX(-8)" x="0" y="2.34" text-anchor="middle" class="hd">ompA</text>
<text transform="translate(452.85,25.5) rotate(90) skewX(-8)" x="0" y="2.34" text-anchor="middle" class="hd">adeF</text>
<text transform="translate(464.15,25.5) rotate(90) skewX(-8)" x="0" y="2.34" text-anchor="middle" class="hd">adeG</text>
<text transform="translate(475.45,25.5) rotate(90) skewX(-8)" x="0" y="2.34" text-anchor="middle" class="hd">adeH</text>
<text transform="translate(486.75,25.5) rotate(90) skewX(-8)" x="0" y="2.34" text-anchor="middle" class="hd">bap</text>
<text transform="translate(498.05,25.5) rotate(90) skewX(-8)" x="0" y="2.34" text-anchor="middle" class="hd">csuA</text>
<text transform="translate(509.35,25.5) rotate(90) skewX(-8)" x="0" y="2.34" text-anchor="middle" class="hd">csuB</text>
<text transform="translate(520.65,25.5) rotate(90) skewX(-8)" x="0" y="2.34" text-anchor="middle" class="hd">csuA/B</text>
<text transform="translate(531.95,25.5) rotate(90) skewX(-8)" x="0" y="2.34" text-anchor="middle" class="hd">csuC</text>
<text transform="translate(543.25,25.5) rotate(90) skewX(-8)" x="0" y="2.34" text-anchor="middle" class="hd">csuD</text>
<text transform="translate(554.55,25.5) rotate(90) skewX(-8)" x="0" y="2.34" text-anchor="middle" class="hd">csuE</text>
<text transform="translate(565.85,25.5) rotate(90) skewX(-8)" x="0" y="2.34" text-anchor="middle" class="hd">abaR</text>
<text transform="translate(577.15,25.5) rotate(90) skewX(-8)" x="0" y="2.34" text-anchor="middle" class="hd">pgaA</text>
<text transform="translate(588.45,25.5) rotate(90) skewX(-8)" x="0" y="2.34" text-anchor="middle" class="hd">pgaB</text>
<text transform="translate(599.75,25.5) rotate(90) skewX(-8)" x="0" y="2.34" text-anchor="middle" class="hd">pgaC</text>
<text transform="translate(611.05,25.5) rotate(90) skewX(-8)" x="0" y="2.34" text-anchor="middle" class="hd">pgaD</text>
<text transform="translate(622.35,25.5) rotate(90) skewX(-8)" x="0" y="2.34" text-anchor="middle" class="hd">basABCDFGHIJ</text>
<text transform="translate(633.65,25.5) rotate(90) skewX(-8)" x="0" y="2.34" text-anchor="middle" class="hd">bauA</text>
<text transform="translate(644.95,25.5) rotate(90) skewX(-8)" x="0" y="2.34" text-anchor="middle" class="hd">bauBCDEF</text>
<text transform="translate(656.25,25.5) rotate(90) skewX(-8)" x="0" y="2.34" text-anchor="middle" class="hd">barAB</text>
<text transform="translate(667.55,25.5) rotate(90) skewX(-8)" x="0" y="2.34" text-anchor="middle" class="hd">entE</text>
<text transform="translate(678.85,25.5) rotate(90) skewX(-8)" x="0" y="2.34" text-anchor="middle" class="hd">bfmRS</text>
<text x="245.9" y="28.1" text-anchor="middle" class="tt">Time</text>
<text x="279.6" y="28.1" text-anchor="middle" class="tt">ST</text>
<text x="242.6" y="62.95" text-anchor="middle" class="dt">2021/27/4</text>
<text x="280.0" y="62.95" text-anchor="middle" class="dt">2</text>
<text transform="translate(204.0,63.45) scale(0.78,1)" class="lb">HX R1</text>
<text x="242.6" y="77.22" text-anchor="middle" class="dt">2021/15/1</text>
<text x="280.0" y="77.22" text-anchor="middle" class="dt">2</text>
<text transform="translate(204.0,77.72) scale(0.78,1)" class="lb">HX R8</text>
<text x="242.6" y="91.48" text-anchor="middle" class="dt">2021/15/3</text>
<text x="280.0" y="91.48" text-anchor="middle" class="dt">2</text>
<text transform="translate(186.6,91.98) scale(0.78,1)" class="lb">HX R2</text>
<text x="242.6" y="105.75" text-anchor="middle" class="dt">2020/13/4</text>
<text x="280.0" y="105.75" text-anchor="middle" class="dt">2</text>
<text transform="translate(186.6,106.25) scale(0.78,1)" class="lb">HX R26</text>
<text x="242.6" y="120.01" text-anchor="middle" class="dt">2023/14/1</text>
<text x="280.0" y="120.01" text-anchor="middle" class="dt">2</text>
<text transform="translate(186.6,120.51) scale(0.78,1)" class="lb">HX R46</text>
<text x="242.6" y="134.28" text-anchor="middle" class="dt">2022/23/11</text>
<text x="280.0" y="134.28" text-anchor="middle" class="dt">2</text>
<text transform="translate(186.6,134.78) scale(0.78,1)" class="lb">HX R60</text>
<text x="242.6" y="148.54" text-anchor="middle" class="dt">2023/9/1</text>
<text x="280.0" y="148.54" text-anchor="middle" class="dt">2</text>
<text transform="translate(186.6,149.04) scale(0.78,1)" class="lb">HX R50</text>
<text x="242.6" y="162.81" text-anchor="middle" class="dt">2023/16/1</text>
<text x="280.0" y="162.81" text-anchor="middle" class="dt">2</text>
<text transform="translate(186.6,163.31) scale(0.78,1)" class="lb">HX R58</text>
<text x="242.6" y="177.07" text-anchor="middle" class="dt">2022/13/9</text>
<text x="280.0" y="177.07" text-anchor="middle" class="dt">2</text>
<text transform="translate(189.1,177.57) scale(0.78,1)" class="lb">HX R54</text>
<text x="242.6" y="191.33" text-anchor="middle" class="dt">2022/18/2</text>
<text x="280.0" y="191.33" text-anchor="middle" class="dt">2</text>
<text transform="translate(189.1,191.83) scale(0.78,1)" class="lb">HX R68</text>
<text x="242.6" y="205.60" text-anchor="middle" class="dt">2018/6/3</text>
<text x="280.0" y="205.60" text-anchor="middle" class="dt">410</text>
<text transform="translate(204.0,206.10) scale(0.78,1)" class="lb">HX S25</text>
<text x="242.6" y="219.87" text-anchor="middle" class="dt">2018/19/6</text>
<text x="280.0" y="219.87" text-anchor="middle" class="dt">1264</text>
<text transform="translate(204.0,220.37) scale(0.78,1)" class="lb">HX S26</text>
<path d="M201.70 61.60L201.70 75.87 M184.40 68.73L201.70 68.73 M184.40 68.73L184.40 161.46 M170.30 115.09L184.40 115.09 M170.30 115.09L170.30 182.85 M170.30 182.85L186.50 182.85 M186.50 175.72L186.50 189.98 M1.00 148.97L170.30 148.97 M1.00 148.97L1.00 211.38 M1.00 211.38L201.40 211.38 M201.40 204.25L201.40 218.52 M201.70 61.60L202.10 61.60 M201.70 75.87L202.10 75.87 M186.50 175.72L186.90 175.72 M186.50 189.98L186.90 189.98 M201.40 204.25L201.80 204.25 M201.40 218.52L201.80 218.52 M23.00 236.70L74.40 236.70 M23.00 235.00L23.00 238.50 M74.40 235.00L74.40 238.50" stroke="#686868" stroke-width="1.3" fill="none" stroke-linecap="square"/>
<text transform="translate(49.0,244.0) scale(0.78,1)" text-anchor="middle" class="lb">0.20</text>
<rect x="3.3" y="49.3" width="18.8" height="41.3" fill="#EDEDED"/>
<rect x="4.9" y="50.9" width="17.1" height="7.10" fill="#8EA9DB"/>
<text transform="translate(22.7,56.8) scale(0.9,1)" class="lg">Resistance gene positive</text>
<rect x="4.9" y="59.6" width="17.1" height="9.00" fill="#C9C9C9"/>
<text transform="translate(22.7,66.7) scale(0.9,1)" class="lg">Resistance gene negative</text>
<rect x="4.9" y="70.9" width="17.1" height="6.90" fill="#F4B183"/>
<text transform="translate(22.7,76.7) scale(0.9,1)" class="lg">Virulence gene positive</text>
<rect x="4.9" y="79.5" width="17.1" height="9.50" fill="#7AF55E"/>
<text transform="translate(22.7,86.2) scale(0.9,1)" class="lg">Virulence gene negative</text>
</svg>
</body></html>
